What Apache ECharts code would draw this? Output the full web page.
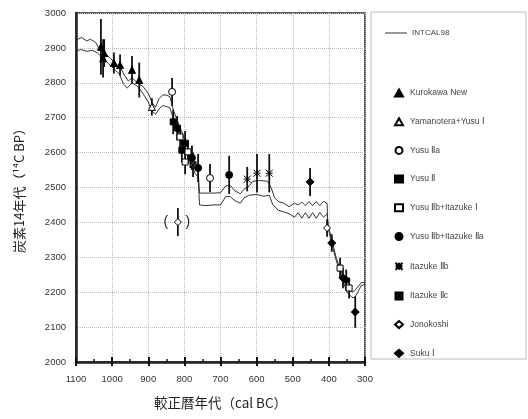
<!DOCTYPE html>
<html><head><meta charset="utf-8">
<script src="https://cdn.jsdelivr.net/npm/echarts@6/dist/echarts.min.js"></script>
<style>html,body{margin:0;padding:0;background:#fff}#c{width:528px;height:419px}</style>
</head><body><div id="c"></div>
<script>
// INTCAL98 calibration curve (upper / lower 1-sigma lines) : [cal BC, 14C BP]
const intcalUpper = [[1100,2922],[1085,2930],[1070,2920],[1060,2925],[1045,2915],[1035,2895],[1020,2885],[1005,2870],[990,2855],[975,2840],[965,2820],[955,2805],[945,2815],[930,2800],[915,2790],[900,2770],[890,2745],[880,2730],[870,2755],[860,2765],[850,2765],[840,2760],[830,2720],[815,2680],[800,2640],[785,2600],[770,2560],[762,2550],[758,2484],[740,2484],[720,2484],[700,2485],[685,2505],[672,2505],[660,2490],[645,2482],[635,2495],[620,2505],[610,2518],[590,2520],[570,2518],[560,2500],[550,2470],[540,2460],[525,2455],[510,2445],[495,2455],[485,2450],[475,2458],[465,2448],[455,2460],[445,2448],[435,2460],[425,2448],[415,2460],[405,2455],[403,2395],[392,2350],[380,2300],[365,2255],[350,2215],[336,2200],[328,2205],[320,2215],[310,2228],[300,2228]];
const intcalLower = [[1100,2892],[1085,2895],[1070,2890],[1055,2893],[1040,2885],[1025,2870],[1010,2855],[995,2840],[980,2825],[968,2795],[958,2785],[945,2800],[930,2790],[915,2770],[900,2745],[890,2720],[880,2710],[870,2725],[860,2735],[850,2732],[840,2728],[830,2695],[815,2655],[800,2615],[785,2575],[770,2540],[762,2530],[758,2450],[740,2448],[720,2450],[700,2450],[685,2475],[672,2473],[660,2462],[645,2455],[635,2470],[620,2478],[600,2480],[580,2475],[565,2478],[555,2450],[540,2435],[525,2430],[510,2425],[495,2415],[485,2428],[475,2412],[465,2428],[455,2412],[445,2428],[435,2412],[425,2428],[415,2415],[405,2425],[400,2375],[390,2330],[378,2285],[365,2245],[350,2200],[336,2185],[328,2185],[320,2200],[310,2220],[300,2222]];

// measured samples: [cal BC, 14C BP, error]
const kurokawaNew = [[1031,2903,80],[1025,2870,55],[1022,2885,40],[995,2857,30],[978,2851,30],[945,2837,40],[925,2808,50]];
const yamanoteraYusu1 = [[890,2731,25]];
const yusu2a = [[834,2774,40],[729,2527,40]];
const yusu2 = [[831,2688,35],[807,2607,35]];
const yusu2bItazuke1 = [[812,2645,35],[798,2573,35],[790,2602,35],[369,2269,30],[344,2212,30]];
const yusu2bItazuke2a = [[820,2670,35],[798,2627,35],[779,2585,35],[762,2556,40],[676,2536,55]];
const itazuke2b = [[626,2524,35],[599,2541,55],[565,2541,55]];
const itazuke2c = [[776,2565,35]];
const jonokoshi = [[818,2401,40],[405,2384,25]];
const suku1 = [[452,2516,40],[392,2341,25],[361,2241,30],[352,2235,30],[327,2143,45]];
const outliers = [[818,2401]];

const xTicks = {min:300, max:1100, interval:100};
const yTicks = {min:2000, max:3000, interval:100};

const groups = [
  {name:'Kurokawa New', data:kurokawaNew, symbol:'triangle', size:7, fill:'#000'},
  {name:'Yamanotera+Yusu Ⅰ', data:yamanoteraYusu1, symbol:'triangle', size:7, fill:'#fff'},
  {name:'Yusu Ⅱa', data:yusu2a, symbol:'circle', size:7, fill:'#fff'},
  {name:'Yusu Ⅱ', data:yusu2, symbol:'rect', size:6, fill:'#000'},
  {name:'Yusu Ⅱb+Itazuke Ⅰ', data:yusu2bItazuke1, symbol:'rect', size:6, fill:'#fff'},
  {name:'Yusu Ⅱb+Itazuke Ⅱa', data:yusu2bItazuke2a, symbol:'circle', size:7, fill:'#000'},
  {name:'Itazuke Ⅱb', data:itazuke2b, symbol:'path://M0,0L10,10M10,0L0,10M5,0L5,10M0,5L10,5', size:7, fill:'none'},
  {name:'Itazuke Ⅱc', data:itazuke2c, symbol:'path://M0,0L10,0L10,10L0,10ZM0,0L10,10M10,0L0,10', size:6, fill:'#444'},
  {name:'Jonokoshi', data:jonokoshi, symbol:'diamond', size:7, fill:'#fff'},
  {name:'Suku Ⅰ', data:suku1, symbol:'diamond', size:8, fill:'#000'}
];

const errData = [];
groups.forEach(g => g.data.forEach(d => errData.push([d[0], d[1]-d[2], d[1]+d[2]])));

const chart = echarts.init(document.getElementById('c'), null, {renderer:'canvas'});
const numFont = 'Liberation Sans';

const series = [
  {name:'INTCAL98', type:'line', data:intcalUpper, symbol:'none', lineStyle:{color:'#333', width:1}, itemStyle:{color:'#333'}, z:2, silent:true},
  {name:'INTCAL98', type:'line', data:intcalLower, symbol:'none', lineStyle:{color:'#333', width:1}, itemStyle:{color:'#333'}, z:2, silent:true},
  {name:'err', type:'custom', data:errData, encode:{x:0, y:[1,2]}, z:3,
   renderItem:function(params, api){
     const a = api.coord([api.value(0), api.value(1)]);
     const b = api.coord([api.value(0), api.value(2)]);
     return {type:'line', shape:{x1:a[0], y1:a[1], x2:b[0], y2:b[1]}, style:{stroke:'#111', lineWidth:1.8}};
   }},
  {name:'paren', type:'custom', data:outliers, encode:{x:0, y:1}, z:4,
   renderItem:function(params, api){
     const p = api.coord([api.value(0), api.value(1)]);
     return {type:'group', children:[
       {type:'text', style:{text:'(', x:p[0]-12, y:p[1], fill:'#222', font:'14px Liberation Sans', align:'center', verticalAlign:'middle'}},
       {type:'text', style:{text:')', x:p[0]+10, y:p[1], fill:'#222', font:'14px Liberation Sans', align:'center', verticalAlign:'middle'}}
     ]};
   }}
];
groups.forEach(g => {
  series.push({name:g.name, type:'scatter', data:g.data.map(d=>[d[0], d[1]]), symbol:g.symbol, symbolSize:g.size, z:5,
    itemStyle:{color:g.fill, borderColor:'#000', borderWidth:1, opacity:1}});
});

const option = {
  backgroundColor:'#fff',
  animation:false,
  grid:{left:76, right:163, top:13, bottom:57, show:true, borderColor:'#222', borderWidth:1.5, containLabel:false},
  xAxis:[{
    type:'value', inverse:true, min:xTicks.min, max:xTicks.max, interval:xTicks.interval,
    name:'較正暦年代（cal BC）', nameLocation:'middle', nameGap:34,
    nameTextStyle:{fontFamily:'Noto Sans CJK JP', fontSize:13.5, color:'#222'},
    axisLine:{show:true, lineStyle:{color:'#222', width:2.5}},
    axisTick:{show:true, inside:true, length:5, lineStyle:{color:'#111', width:2}},
    minorTick:{show:true, splitNumber:2, length:3, lineStyle:{color:'#111', width:1.5}},
    axisLabel:{fontFamily:numFont, fontSize:9.5, color:'#333', margin:12, formatter:v=>String(v)},
    splitLine:{show:true, lineStyle:{color:'#bbb', type:'dotted', width:1}}
  },{
    type:'value', inverse:true, min:xTicks.min, max:xTicks.max, interval:xTicks.interval, position:'bottom',
    axisLine:{show:false}, axisLabel:{show:false}, splitLine:{show:false},
    axisTick:{show:true, inside:false, length:4, lineStyle:{color:'#111', width:2}}
  }],
  yAxis:{
    type:'value', min:yTicks.min, max:yTicks.max, interval:yTicks.interval,
    name:'炭素14年代（¹⁴C BP）', nameLocation:'middle', nameGap:50, nameRotate:90,
    nameTextStyle:{fontFamily:'Noto Sans CJK JP', fontSize:13, color:'#222'},
    axisLine:{show:true, lineStyle:{color:'#222', width:2.5}},
    axisTick:{show:false},
    axisLabel:{fontFamily:numFont, fontSize:9.5, color:'#333', margin:10, formatter:v=>String(v)},
    splitLine:{show:true, lineStyle:{color:'#bbb', type:'dotted', width:1}}
  },
  legend:[{
    data:[{name:'INTCAL98', icon:'rect'}], left:380, top:24, itemWidth:22, itemHeight:1, itemGap:0,
    textStyle:{fontFamily:numFont, fontSize:8, color:'#444', padding:[0,0,0,0]}
  },{
    data:groups.map(g=>g.name), orient:'vertical', left:388, top:83, itemWidth:8, itemHeight:7, itemGap:18.7,
    textStyle:{fontFamily:numFont, fontSize:8.5, color:'#444', lineHeight:10, padding:[0,0,0,2]}
  }],
  graphic:[{type:'rect', shape:{x:371, y:12, width:155, height:347}, style:{fill:'none', stroke:'#bbb', lineWidth:1}, z:-1}],
  series:series
};
chart.setOption(option);
</script>
</body></html>
